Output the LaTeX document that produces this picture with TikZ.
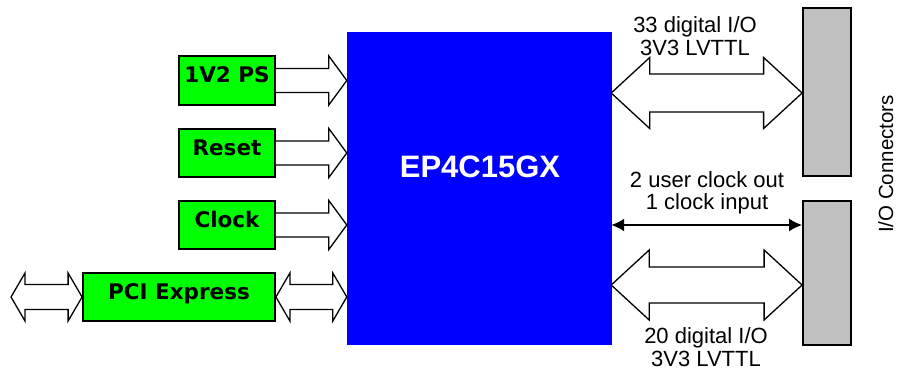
\documentclass[tikz,border=0pt]{standalone}
\usepackage{fontspec}
\setmainfont{Liberation Sans}
\newfontfamily\boxfont{DejaVu Sans}
\usetikzlibrary{calc,arrows.meta}
\definecolor{fpgablue}{RGB}{0,0,255}
\definecolor{boxgreen}{RGB}{0,255,0}
\definecolor{conngray}{RGB}{192,192,192}
\tikzset{
  gbox/.style={draw=black, line width=1.8pt, fill=boxgreen, inner sep=0pt,
    minimum width=96pt, minimum height=48pt,
    font=\boxfont\bfseries\fontsize{21.5}{23}\selectfont, text height=12pt, text depth=8pt},
  cbox/.style={draw=black, line width=1.8pt, fill=conngray, inner sep=0pt, minimum width=48pt},
  fat/.style={draw=black, line width=1.3pt, fill=white, line join=miter},
  lbl/.style={font=\fontsize{22}{23}\selectfont, anchor=base, inner sep=0pt},
  thinarrow/.style={line width=2pt, {Latex[length=13pt,width=13pt]}-{Latex[length=13pt,width=13pt]}},
}
\newcommand\fatR[5]{%
  \draw[fat] let \p1=(#1), \p2=(#2) in
    (\x1,\y1+#3) -- (\x2-#5,\y1+#3) -- (\x2-#5,\y1+#4) -- (\x2,\y1) --
    (\x2-#5,\y1-#4) -- (\x2-#5,\y1-#3) -- (\x1,\y1-#3);}
\newcommand\fatD[6]{%
  \draw[fat] let \p1=(#1), \p2=(#2), \p3=(#3) in
    (\x1,\y3) -- (\x1+#6,\y3+#5) -- (\x1+#6,\y3+#4) -- (\x2-#6,\y3+#4) --
    (\x2-#6,\y3+#5) -- (\x2,\y3) -- (\x2-#6,\y3-#5) -- (\x2-#6,\y3-#4) --
    (\x1+#6,\y3-#4) -- (\x1+#6,\y3-#5) -- cycle;}
\begin{document}
\begin{tikzpicture}[x=1pt,y=-1pt]
\useasboundingbox (0,0) rectangle (905,370);
% FPGA
\node[draw=fpgablue, fill=fpgablue, minimum width=264pt, minimum height=312pt, inner sep=0pt] (fpga) at (479,188) {};
\node[font=\bfseries\fontsize{31}{36}\selectfont, text=white, anchor=base, inner sep=0pt] (fpgatext) at (480,177) {EP4C15GX};
% green boxes
\node[gbox, minimum height=49pt] (ps) at (227,80.5) {1V2 PS};
\node[gbox] (reset) at (227,153) {Reset};
\node[gbox] (clock) at (227,225) {Clock};
\node[gbox, minimum width=192pt] (pci) at (179,297) {PCI Express};
% connectors
\node[cbox, minimum height=168pt] (conn1) at (827,92) {};
\node[cbox, minimum height=144pt] (conn2) at (827,273) {};
\node[rotate=90, anchor=base, inner sep=0pt, font=\fontsize{20.5}{22}\selectfont] (conntext) at (893,164) {I/O Connectors};
% coordinates
\coordinate (pcil) at (11,297);
\coordinate (row1) at (0,93);
\coordinate (row2) at (0,285);
\coordinate (row3) at (0,225);
% fat arrows
\fatR{ps.east}{fpga.west}{12pt}{24.5pt}{18pt}
\fatR{reset.east}{fpga.west}{12pt}{24.5pt}{18pt}
\fatR{clock.east}{fpga.west}{12pt}{24.5pt}{18pt}
\fatD{pcil}{pci.west}{pci}{12.5pt}{24pt}{14pt}
\fatD{pci.east}{fpga.west}{pci}{12.5pt}{24pt}{14pt}
\fatD{fpga.east}{conn1.west}{row1}{19pt}{35.5pt}{38.5pt}
\fatD{fpga.east}{conn2.west}{row2}{18pt}{35pt}{38pt}
% thin arrow
\draw[thinarrow] (fpga.east |- row3) -- (conn2.west |- row3);
% labels
\node[lbl] (t1a) at (695,32) {33 digital I/O};
\node[lbl] (t1b) at (695,55) {3V3 LVTTL};
\node[lbl] (t2a) at (707,187) {2 user clock out};
\node[lbl] (t2b) at (707,209) {1 clock input};
\node[lbl] (t3a) at (706,343) {20 digital I/O};
\node[lbl] (t3b) at (706,366) {3V3 LVTTL};
\end{tikzpicture}
\end{document}
